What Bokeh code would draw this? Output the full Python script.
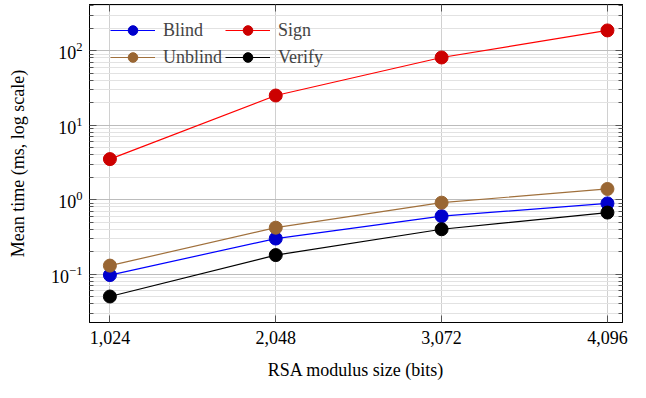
from bokeh.plotting import figure
from bokeh.models import (LogAxis, LinearAxis, FixedTicker, NumeralTickFormatter,
                          CustomJSTickFormatter, Range1d, Legend, LegendItem)
from bokeh.embed import file_html
from bokeh.resources import INLINE

# ---- data ----
sizes = [1024, 2048, 3072, 4096]
blind = [0.097, 0.30, 0.60, 0.89]
sign = [3.5, 25, 81, 187]
unblind = [0.13, 0.42, 0.91, 1.39]
verify = [0.050, 0.18, 0.40, 0.67]
x_ticks = [1024, 2048, 3072, 4096]
y_major = [0.01, 0.1, 1, 10, 100, 1000]

FONT = "Liberation Serif"

p = figure(width=630, height=382, y_axis_type="log",
           x_range=Range1d(898, 4189), y_range=Range1d(10 ** -1.65, 10 ** 2.62),
           output_backend="svg", toolbar_location=None,
           min_border_left=89, min_border_right=8, min_border_top=4, min_border_bottom=56)

y_minor = [m * d for d in y_major[:-1] for m in range(2, 10)]
yticker = FixedTicker(ticks=y_major, minor_ticks=y_minor)
xticker = FixedTicker(ticks=x_ticks)

p.outline_line_color = "black"
p.outline_line_width = 1

# grids
p.xgrid.ticker = xticker
p.xgrid.grid_line_color = "#d0d0d0"
p.ygrid.ticker = yticker
p.ygrid.grid_line_color = "#bcbcbc"
p.ygrid.minor_grid_line_color = "#e2e2e2"

def style_axis(ax, labels=True):
    ax.axis_line_color = "black"
    ax.major_tick_in = 7
    ax.major_tick_out = 0
    ax.minor_tick_in = 4
    ax.minor_tick_out = 0
    ax.major_tick_line_color = "#555555"
    ax.minor_tick_line_color = "#555555"
    ax.major_label_text_font = FONT
    ax.major_label_text_font_size = "18px"
    ax.major_label_text_color = "black"
    ax.axis_label_text_font = FONT
    ax.axis_label_text_font_size = "18px"
    ax.axis_label_text_font_style = "normal"
    ax.axis_label_text_color = "black"
    if not labels:
        ax.formatter = CustomJSTickFormatter(code="return '';")
        ax.major_label_standoff = 0

xa = p.xaxis[0]
xa.ticker = xticker
xa.formatter = NumeralTickFormatter(format="0,0")
xa.axis_label = "RSA modulus size (bits)"
style_axis(xa)
xa.major_label_standoff = 8
xa.axis_label_standoff = 13

ya = p.yaxis[0]
ya.ticker = yticker
ya.axis_label = "Mean time (ms, log scale)"
style_axis(ya)
ya.major_label_standoff = 7
ya.axis_label_standoff = 20

ra = LogAxis(ticker=yticker)
style_axis(ra, labels=False)
p.add_layout(ra, "right")
ta = LinearAxis(ticker=xticker)
style_axis(ta, labels=False)
ta.minor_tick_in = 0
p.add_layout(ta, "above")

series = [
    ("Blind", blind, "#0000ff", "#0000cc"),
    ("Sign", sign, "#ff0000", "#cc0000"),
    ("Unblind", unblind, "#a0703c", "#996633"),
    ("Verify", verify, "#000000", "#000000"),
]
items = {}
for name, vals, lc, mc in series:
    ln = p.line(sizes, vals, line_color=lc, line_width=1.2)
    sc = p.scatter(sizes, vals, size=13, fill_color=mc, line_color=mc)
    items[name] = LegendItem(label=name, renderers=[ln, sc])

legend = Legend(items=[items["Blind"], items["Unblind"], items["Sign"], items["Verify"]],
                location=(21, 253), orientation="vertical", nrows=2,
                padding=0, margin=0, spacing=3,
                glyph_width=45, glyph_height=24, label_height=24,
                label_standoff=8, label_text_font=FONT, label_text_font_size="18px",
                background_fill_alpha=0, border_line_alpha=0)
p.add_layout(legend)

open("out.html", "w").write(file_html(p, INLINE))
